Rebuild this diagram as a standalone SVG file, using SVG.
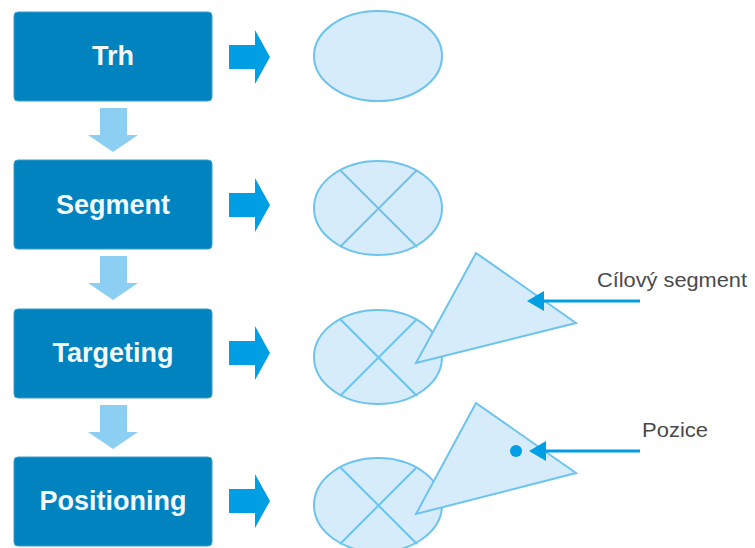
<svg xmlns="http://www.w3.org/2000/svg" width="755" height="548" viewBox="0 0 755 548">
<style>
.box{fill:#0083BF;stroke:#3D9CCB;stroke-width:1}
.lbl{font-family:"Liberation Sans",Arial,sans-serif;font-weight:bold;font-size:27px;fill:#F4F9FC;text-anchor:middle}
.rarr{fill:#009FE3}
.darr{fill:#8CCFF3}
.shape{fill:#D6ECFA;stroke:#6CC3EE;stroke-width:2}
.cross{stroke:#6CC3EE;stroke-width:2;fill:none}
.note{font-family:"Liberation Sans",Arial,sans-serif;font-size:21px;fill:#4A4A4A}
.ptr{stroke:#009FE3;stroke-width:3;fill:none}
</style>
<defs>
<path id="ra" d="M0,-12 H26 V-27 L41,0 L26,27 V12 H0 Z"/>
<path id="da" d="M-13,0 H14 V27 H25 L0,44 L-25,27 H-13 Z"/>
</defs>
<g id="node-trh"><rect class="box" x="14" y="12" width="198" height="89" rx="4"/><text class="lbl" x="113" y="65">Trh</text></g>
<g id="node-segment"><rect class="box" x="14" y="160" width="198" height="89" rx="4"/><text class="lbl" x="113" y="214">Segment</text></g>
<g id="node-targeting"><rect class="box" x="14" y="309" width="198" height="89" rx="4"/><text class="lbl" x="113" y="362">Targeting</text></g>
<g id="node-positioning"><rect class="box" x="14" y="457" width="198" height="89" rx="4"/><text class="lbl" x="113" y="510">Positioning</text></g>
<g id="ellipse-1"><ellipse class="shape" cx="378" cy="56" rx="64" ry="45"/></g>
<g id="ellipse-2"><ellipse class="shape" cx="378" cy="208" rx="64" ry="47"/><path class="cross" d="M340,170 L417,247 M417,170 L340,247"/></g>
<g id="ellipse-3"><ellipse class="shape" cx="378" cy="357" rx="64" ry="47"/><path class="cross" d="M340,319 L417,396 M417,319 L340,396"/><polygon class="shape" points="476,253 576,323 416,363"/></g>
<g id="ellipse-4"><ellipse class="shape" cx="378" cy="505" rx="64" ry="47"/><path class="cross" d="M340,467 L417,544 M417,467 L340,544"/><polygon class="shape" points="476,403 576,473 416,514"/><circle cx="516" cy="451" r="6" fill="#009FE3"/></g>
<g id="label-cilovy"><text class="note" x="597" y="287" textLength="150" lengthAdjust="spacingAndGlyphs">Cílový segment</text></g>
<g id="label-pozice"><text class="note" x="642" y="437" textLength="66" lengthAdjust="spacingAndGlyphs">Pozice</text></g>
<g id="connectors">
<use href="#ra" class="rarr" x="229" y="57"/>
<use href="#ra" class="rarr" x="229" y="205"/>
<use href="#ra" class="rarr" x="229" y="353"/>
<use href="#ra" class="rarr" x="229" y="501"/>
<use href="#da" class="darr" x="113" y="108"/>
<use href="#da" class="darr" x="113" y="256"/>
<use href="#da" class="darr" x="113" y="405"/>
<path class="ptr" d="M640,301 H540"/><path fill="#009FE3" d="M527,301 L544,291 L544,311 Z"/>
<path class="ptr" d="M640,451 H542"/><path fill="#009FE3" d="M529,451 L546,441 L546,461 Z"/>
</g>
</svg>
